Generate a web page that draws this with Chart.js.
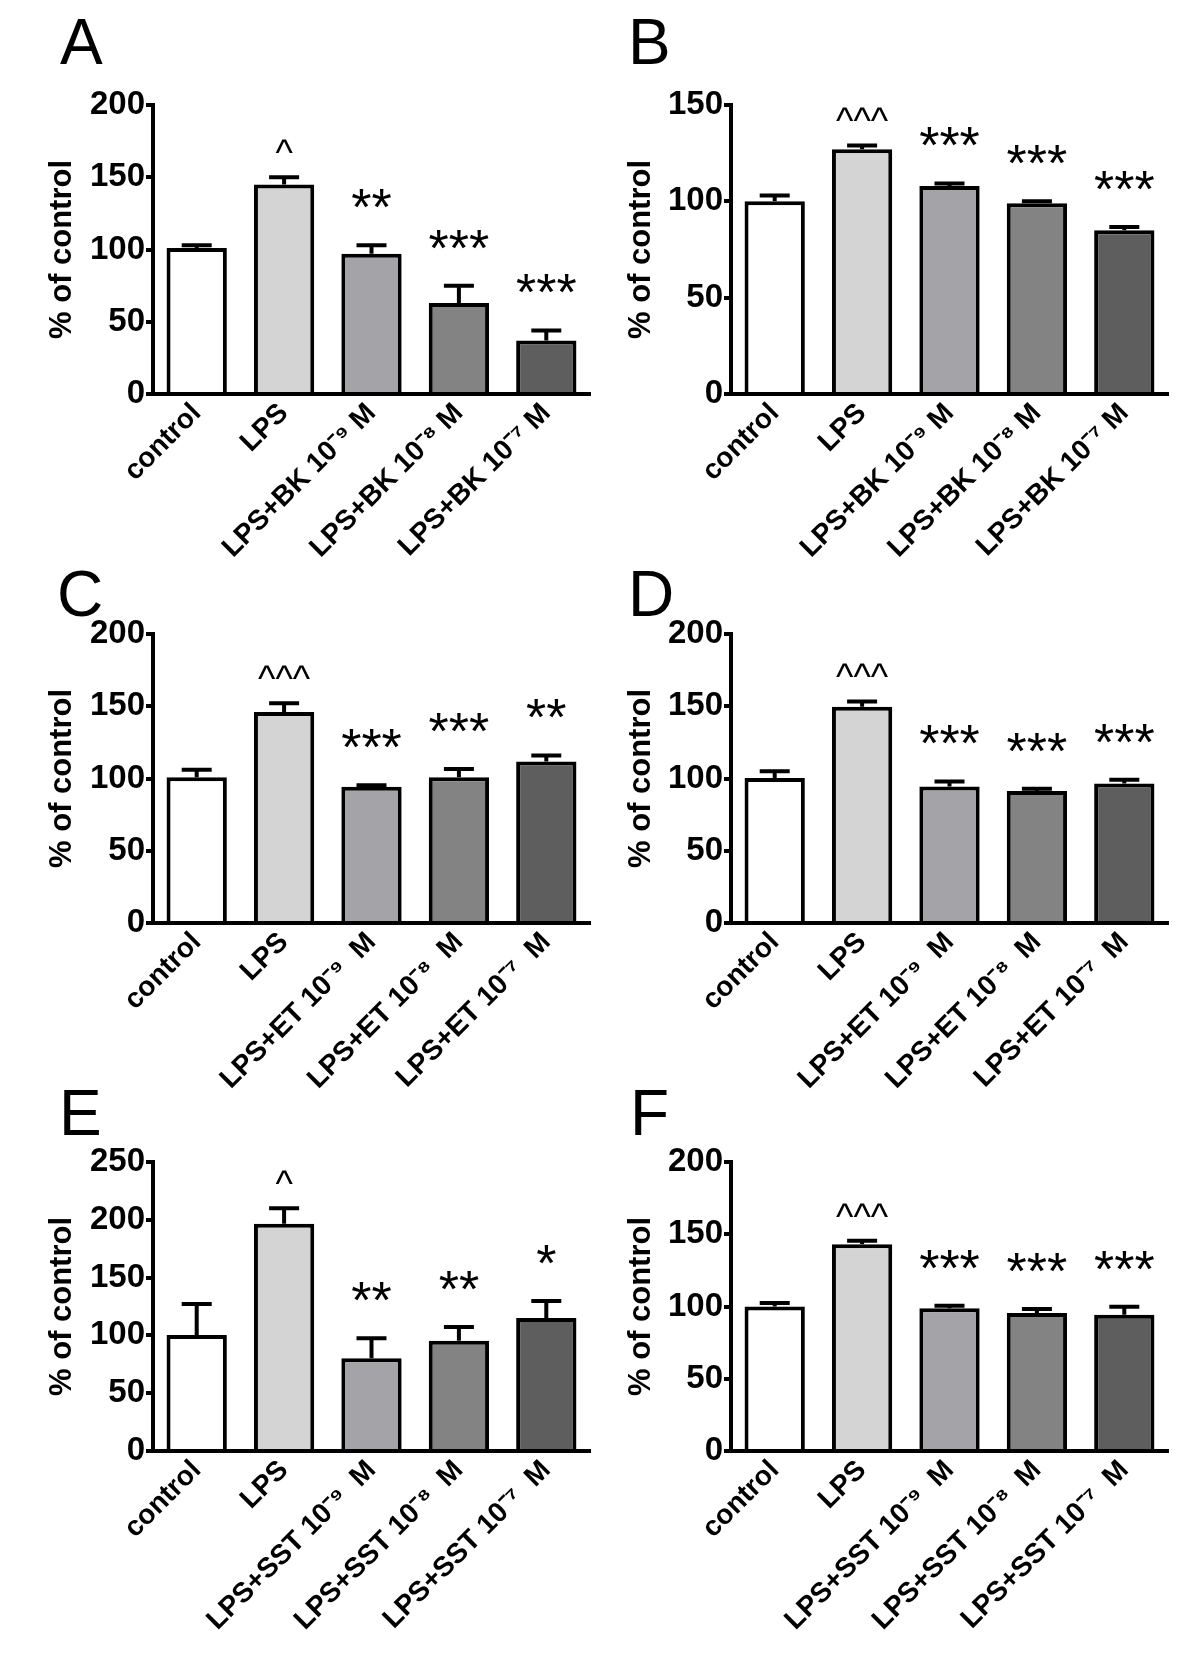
<!DOCTYPE html>
<html>
<head>
<meta charset="utf-8">
<script src="https://cdn.jsdelivr.net/npm/chart.js@4.4.1/dist/chart.umd.min.js"></script>
<style>
  body { margin: 0; background: #fff; }
  #wrap { position: relative; width: 1200px; height: 1654px; overflow: hidden; }
  canvas { position: absolute; }
  .letter { position: absolute; font-family: "Liberation Sans", Arial, sans-serif; font-size: 64px; line-height: 1; color: #000; }
</style>
</head>
<body>
<div id="wrap">
  <canvas id="chartA" width="600" height="597" style="left:0;top:0"></canvas>
  <canvas id="chartB" width="600" height="597" style="left:600px;top:0"></canvas>
  <canvas id="chartC" width="600" height="597" style="left:0;top:529px"></canvas>
  <canvas id="chartD" width="600" height="597" style="left:600px;top:529px"></canvas>
  <canvas id="chartE" width="600" height="597" style="left:0;top:1057px"></canvas>
  <canvas id="chartF" width="600" height="597" style="left:600px;top:1057px"></canvas>
  <div class="letter" style="left:60px;top:10px">A</div>
  <div class="letter" style="left:628px;top:10px">B</div>
  <div class="letter" style="left:57px;top:562px">C</div>
  <div class="letter" style="left:628px;top:562px">D</div>
  <div class="letter" style="left:59px;top:1081px">E</div>
  <div class="letter" style="left:630px;top:1081px">F</div>
</div>
<script>
// category labels
const labelsBK = ["control", "LPS", "LPS+BK 10⁻⁹ M", "LPS+BK 10⁻⁸ M", "LPS+BK 10⁻⁷ M"];
const labelsET = ["control", "LPS", "LPS+ET 10⁻⁹  M", "LPS+ET 10⁻⁸  M", "LPS+ET 10⁻⁷  M"];
const labelsSST = ["control", "LPS", "LPS+SST 10⁻⁹  M", "LPS+SST 10⁻⁸  M", "LPS+SST 10⁻⁷  M"];

// mean values (% of control) and mean + SEM
const valuesA = [101, 145, 97, 63, 37];
const errorsA = [103, 150, 103, 75, 44];
const marksA = ["", "^", "**", "***", "***"];

const valuesB = [100, 127, 108, 99, 85];
const errorsB = [103, 129, 109.3, 100, 86.7];
const marksB = ["", "^^^", "***", "***", "***"];

const valuesC = [100.8, 146, 94.3, 100.8, 111.8];
const errorsC = [106, 152, 95.4, 106.5, 116];
const marksC = ["", "^^^", "***", "***", "**"];

const valuesD = [100.4, 149.6, 94.5, 91.4, 96.6];
const errorsD = [105, 153.3, 98, 92.9, 99.2];
const marksD = ["", "^^^", "***", "***", "***"];

const valuesE = [100.3, 196.6, 80.3, 95.3, 115];
const errorsE = [127.2, 210, 97.5, 107.2, 129.7];
const marksE = ["", "^", "**", "**", "*"];

const valuesF = [100, 143, 98.8, 95.5, 94.3];
const errorsF = [102.5, 145.5, 100.5, 98.3, 99.8];
const marksF = ["", "^^^", "***", "***", "***"];

const barColors = ["#ffffff", "#d4d4d4", "#a4a4a8", "#838383", "#5e5e5e"];

Chart.defaults.font.family = '"Liberation Sans", Arial, sans-serif';
Chart.defaults.color = "#000";

const canvasH = 597;
const zeroY = 394;

// upper error bar + significance mark above each bar
const errorBars = {
  id: "errorBars",
  afterDatasetsDraw(chart, args, opts) {
    const ctx = chart.ctx;
    const y = chart.scales.y;
    const values = chart.data.datasets[0].data;
    ctx.save();
    ctx.strokeStyle = "#000";
    ctx.fillStyle = "#000";
    ctx.lineWidth = 4;
    chart.getDatasetMeta(0).data.forEach((bar, i) => {
      const top = y.getPixelForValue(opts.errors[i]);
      const base = y.getPixelForValue(values[i]);
      ctx.beginPath();
      ctx.moveTo(bar.x, base);
      ctx.lineTo(bar.x, top);
      ctx.moveTo(bar.x - 15, top);
      ctx.lineTo(bar.x + 15, top);
      ctx.stroke();
      const mark = opts.marks[i];
      if (mark) {
        ctx.textAlign = "center";
        ctx.textBaseline = "alphabetic";
        if (mark.includes("*")) {
          ctx.font = '52px "Liberation Sans", Arial, sans-serif';
          ctx.fillText(mark, bar.x, top - 20);
        } else {
          ctx.font = '37px "Liberation Sans", Arial, sans-serif';
          ctx.fillText(mark, bar.x, top - 12);
        }
      }
    });
    ctx.restore();
  }
};

function drawPanel(id, labels, values, errors, marks, yMax, axisX, titlePad, rightPad) {
  new Chart(document.getElementById(id), {
    type: "bar",
    data: {
      labels: labels,
      datasets: [{
        data: values,
        backgroundColor: barColors,
        borderColor: "#000",
        borderWidth: 4,
        barPercentage: 0.69,
        categoryPercentage: 1
      }]
    },
    options: {
      responsive: false,
      animation: false,
      devicePixelRatio: 1,
      layout: { padding: { top: 105, right: rightPad, left: 0, bottom: 0 } },
      plugins: {
        legend: { display: false },
        tooltip: { enabled: false },
        errorBars: { errors: errors, marks: marks }
      },
      scales: {
        x: {
          grid: { display: true, drawOnChartArea: false, drawTicks: false },
          border: { color: "#000", width: 4 },
          ticks: {
            color: "#000",
            font: { size: 28, weight: "bold" },
            maxRotation: 45,
            minRotation: 45,
            autoSkip: false,
            padding: 3
          },
          afterFit: s => { s.height = canvasH - zeroY; }
        },
        y: {
          min: 0,
          max: yMax,
          ticks: { stepSize: 50, color: "#000", font: { size: 33, weight: "bold" }, padding: 1 },
          grid: { drawOnChartArea: false, color: "#000", lineWidth: 4, tickLength: 7 },
          border: { color: "#000", width: 4 },
          title: {
            display: true,
            text: "% of control",
            color: "#000",
            font: { size: 31, weight: "bold" },
            padding: { top: titlePad, bottom: 0 }
          },
          afterFit: s => { s.width = axisX; }
        }
      }
    },
    plugins: [errorBars]
  });
}

drawPanel("chartA", labelsBK, valuesA, errorsA, marksA, 200, 153, 44, 10);
drawPanel("chartB", labelsBK, valuesB, errorsB, marksB, 150, 131, 23, 32);
drawPanel("chartC", labelsET, valuesC, errorsC, marksC, 200, 153, 44, 10);
drawPanel("chartD", labelsET, valuesD, errorsD, marksD, 200, 131, 23, 32);
drawPanel("chartE", labelsSST, valuesE, errorsE, marksE, 250, 153, 44, 10);
drawPanel("chartF", labelsSST, valuesF, errorsF, marksF, 200, 131, 23, 32);
</script>
</body>
</html>
